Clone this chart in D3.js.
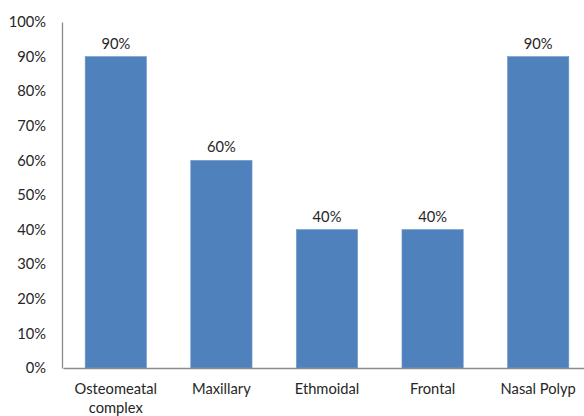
<!DOCTYPE html>
<html>
<head>
<meta charset="utf-8">
<script src="https://cdn.jsdelivr.net/npm/d3@7"></script>
<style>
  html, body { margin: 0; padding: 0; background: #fff; }
  svg { display: block; }
  text { font-family: Lato, "Open Sans", sans-serif; fill: #262626; }
</style>
</head>
<body>
<svg id="chart" width="584" height="416"></svg>
<script>
// Sinus involvement by site (percent of cases)
const categories = ["Osteomeatal complex", "Maxillary", "Ethmoidal", "Frontal", "Nasal Polyp"];
const values = [90, 60, 40, 40, 90];
const yTicks = [0, 10, 20, 30, 40, 50, 60, 70, 80, 90, 100];

const FONT = "Lato, 'Open Sans', sans-serif";
const FS = 14.7;

const svg = d3.select("#chart");
const x = d3.scaleBand().domain(categories).range([63, 591]).paddingInner(0.42).paddingOuter(0.21);
const y = d3.scaleLinear().domain([0, 100]).range([368, 22]);

// Bars
svg.append("g").selectAll("rect").data(values).join("rect")
  .attr("x", (d, i) => x(categories[i]))
  .attr("y", d => y(d))
  .attr("width", x.bandwidth())
  .attr("height", d => y(0) - y(d))
  .attr("fill", "#4f81bd")
  .attr("stroke", "#6d95c8")
  .attr("stroke-width", 0.6);

// Value labels above bars
svg.append("g").selectAll("text").data(values).join("text")
  .attr("x", (d, i) => x(categories[i]) + x.bandwidth() / 2)
  .attr("y", d => y(d) - 8)
  .attr("text-anchor", "middle")
  .attr("font-size", FS)
  .text(d => d + "%");

// Y axis
const yAxis = svg.append("g")
  .attr("transform", "translate(62,0)")
  .call(d3.axisLeft(y).tickValues(yTicks).tickSize(0).tickPadding(16).tickFormat(d => d + "%"));
yAxis.select(".domain").attr("stroke", "#8c8c8c").attr("stroke-width", 1.3);
yAxis.selectAll("text").attr("font-size", FS).style("font-family", FONT).attr("fill", "#262626");

// X axis with wrapped category labels
const xAxis = svg.append("g")
  .attr("transform", "translate(0,368)")
  .call(d3.axisBottom(x).tickSize(0).tickPadding(0));
xAxis.select(".domain").attr("stroke", "#8c8c8c").attr("stroke-width", 1.3);
xAxis.selectAll(".tick text").each(function(d) {
  const t = d3.select(this).text(null).attr("y", 0).attr("dy", null).attr("font-size", FS)
    .style("font-family", FONT).attr("fill", "#262626");
  const words = d === "Osteomeatal complex" ? ["Osteomeatal", "complex"] : [d];
  words.forEach((w, i) => {
    t.append("tspan").attr("x", 0).attr("y", 26 + i * 18.5).text(w);
  });
});
</script>
</body>
</html>
